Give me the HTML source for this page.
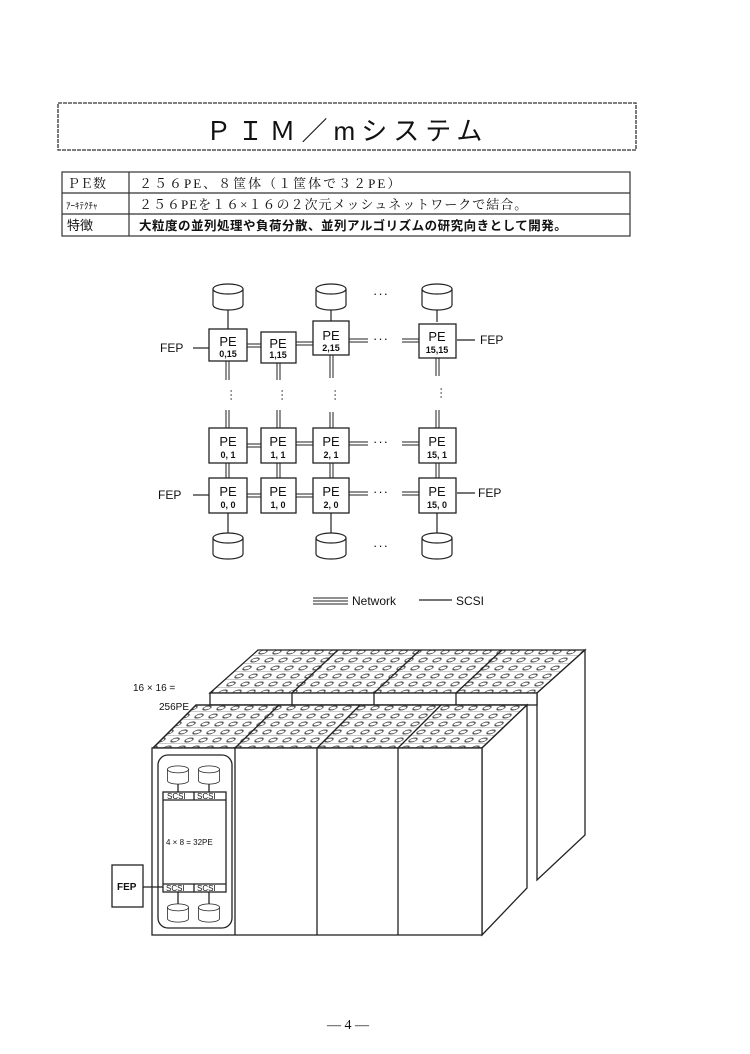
<!DOCTYPE html>
<html><head><meta charset="utf-8"><style>
body{margin:0;background:#fff}
svg{display:block}
text{font-family:"Liberation Sans","Noto Sans CJK JP",sans-serif;fill:#111}
.m{font-family:"Liberation Serif","Noto Serif CJK SC",serif}
</style></head><body>
<svg width="750" height="1054" viewBox="0 0 750 1054" xmlns="http://www.w3.org/2000/svg">
<defs>
<pattern id="dots" width="14" height="8" patternUnits="userSpaceOnUse" patternTransform="skewX(-45)">
<ellipse cx="5" cy="4" rx="3.5" ry="2" fill="none" stroke="#444" stroke-width="1"/>
<line x1="0" y1="7.5" x2="14" y2="7.5" stroke="#888" stroke-width="0.5"/>
</pattern>
<g id="dk"><path d="M-15 -8V8A15 5 0 0 0 15 8V-8"/><ellipse cx="0" cy="-8" rx="15" ry="5"/></g>
</defs>
<!-- title -->
<rect x="58" y="103" width="578" height="47" fill="none" stroke="#333" stroke-width="1.3" stroke-dasharray="4,1"/>
<text x="347" y="140" font-size="26" text-anchor="middle" letter-spacing="6">ＰＩＭ／mシステム</text>
<!-- table -->
<g stroke="#333" stroke-width="1.2" fill="none">
<rect x="62" y="172" width="568" height="64"/>
<line x1="62" y1="193" x2="630" y2="193"/>
<line x1="62" y1="214" x2="630" y2="214"/>
<line x1="129" y1="172" x2="129" y2="236"/>
</g>
<g font-size="13">
<text x="67" y="188" class="m">ＰＥ数</text>
<text x="139" y="188" class="m" letter-spacing="2">２５６PE、８筐体（１筐体で３２PE）</text>
<text x="66" y="209" font-size="9">ｱｰｷﾃｸﾁｬ</text>
<text x="139" y="209" class="m" letter-spacing="1">２５６PEを１６×１６の２次元メッシュネットワークで結合。</text>
<text x="67" y="230">特徴</text>
<text x="139" y="230" font-size="12.5" font-weight="bold" letter-spacing="0.5">大粒度の並列処理や負荷分散、並列アルゴリズムの研究向きとして開発。</text>
</g>
<!-- mesh diagram -->
<g stroke="#222" stroke-width="1.2" fill="#fff">
<line x1="228" y1="305" x2="228" y2="330"/><line x1="331" y1="305" x2="331" y2="322"/><line x1="437" y1="305" x2="437" y2="322"/>
<line x1="228" y1="513" x2="228" y2="535"/><line x1="331" y1="513" x2="331" y2="535"/><line x1="437" y1="513" x2="437" y2="535"/>
<line x1="193" y1="348" x2="209" y2="348"/><line x1="457" y1="340" x2="475" y2="340"/>
<line x1="193" y1="495" x2="209" y2="495"/><line x1="457" y1="493" x2="475" y2="493"/>
</g>
<g stroke="#222" stroke-width="1" fill="none">
<path d="M247 344H261M247 347H261M296 342H313M296 345H313M349 339H368M349 342H368M402 339H419M402 342H419"/>
<path d="M247 444H261M247 447H261M296 442H313M296 445H313M349 442H368M349 445H368M402 442H419M402 445H419"/>
<path d="M247 494H261M247 497H261M296 494H313M296 497H313M349 492H368M349 495H368M402 492H419M402 495H419"/>
<path d="M226 361V380M229 361V380M277 363V380M280 363V380M330 355V378M333 355V378M436 358V376M439 358V376"/>
<path d="M226 410V428M229 410V428M277 410V428M280 410V428M330 412V428M333 412V428M436 410V428M439 410V428"/>
<path d="M226 463V478M229 463V478M277 463V478M280 463V478M330 463V478M333 463V478M436 463V478M439 463V478"/>
</g>
<g font-size="12"><text x="160" y="352">FEP</text><text x="480" y="344">FEP</text><text x="158" y="499">FEP</text><text x="478" y="497">FEP</text></g>
<g font-size="13" letter-spacing="1">
<text x="373" y="343">···</text><text x="373" y="446">···</text><text x="373" y="496">···</text>
<text x="373" y="298">···</text><text x="373" y="550">···</text>
</g>
<g font-size="12"><text x="225" y="392" transform="rotate(90 228 392)">···</text><text x="276" y="392" transform="rotate(90 279 392)">···</text><text x="329" y="392" transform="rotate(90 332 392)">···</text><text x="435" y="390" transform="rotate(90 438 390)">···</text></g>
<g stroke="#222" stroke-width="1.3" fill="#fff">
<rect x="209" y="329" width="38" height="32"/><rect x="261" y="332" width="35" height="31"/><rect x="313" y="321" width="36" height="34"/><rect x="419" y="324" width="37" height="34"/>
<rect x="209" y="428" width="38" height="35"/><rect x="261" y="428" width="35" height="35"/><rect x="313" y="428" width="36" height="35"/><rect x="419" y="428" width="37" height="35"/>
<rect x="209" y="478" width="38" height="35"/><rect x="261" y="478" width="35" height="35"/><rect x="313" y="478" width="36" height="35"/><rect x="419" y="478" width="37" height="35"/>
</g>
<g font-size="13" text-anchor="middle">
<text x="228" y="346">PE</text><text x="278" y="348">PE</text><text x="331" y="340">PE</text><text x="437" y="341">PE</text>
<text x="228" y="446">PE</text><text x="278" y="446">PE</text><text x="331" y="446">PE</text><text x="437" y="446">PE</text>
<text x="228" y="496">PE</text><text x="278" y="496">PE</text><text x="331" y="496">PE</text><text x="437" y="496">PE</text>
</g>
<g font-size="9" font-weight="bold" text-anchor="middle">
<text x="228" y="357">0,15</text><text x="278" y="358">1,15</text><text x="331" y="351">2,15</text><text x="437" y="353">15,15</text>
<text x="228" y="458">0, 1</text><text x="278" y="458">1, 1</text><text x="331" y="458">2, 1</text><text x="437" y="458">15, 1</text>
<text x="228" y="508">0, 0</text><text x="278" y="508">1, 0</text><text x="331" y="508">2, 0</text><text x="437" y="508">15, 0</text>
</g>
<g stroke="#222" stroke-width="1.2" fill="#fff">
<use href="#dk" x="228" y="297"/><use href="#dk" x="331" y="297"/><use href="#dk" x="437" y="297"/>
<use href="#dk" x="228" y="546"/><use href="#dk" x="331" y="546"/><use href="#dk" x="437" y="546"/>
</g>
<!-- legend -->
<path d="M313 598H348M313 601H348M313 604H348" stroke="#222" stroke-width="0.9"/>
<text x="352" y="605" font-size="12">Network</text>
<line x1="419" y1="600" x2="452" y2="600" stroke="#222" stroke-width="1.2"/>
<text x="456" y="605" font-size="12">SCSI</text>
<!-- cabinet back -->
<g stroke="#222" stroke-width="1.3" fill="#fff">
<polygon points="210,693 537,693 585,650 258,650" fill="url(#dots)"/>
<polygon points="537,693 585,650 585,835 537,880"/>
<rect x="210" y="693" width="327" height="12"/>
<line x1="292" y1="693" x2="338" y2="650"/><line x1="374" y1="693" x2="420" y2="650"/><line x1="456" y1="693" x2="502" y2="650"/>
<line x1="292" y1="693" x2="292" y2="705"/><line x1="374" y1="693" x2="374" y2="705"/><line x1="456" y1="693" x2="456" y2="705"/>
</g>
<!-- cabinet front -->
<g stroke="#222" stroke-width="1.3" fill="#fff">
<polygon points="153,748 482,748 527,705 196,705"/>
<polygon points="153,748 482,748 527,705 196,705" fill="url(#dots)"/>
<polygon points="482,748 527,705 527,888 482,935"/>
<rect x="152" y="748" width="330" height="187"/>
<line x1="235" y1="748" x2="235" y2="935"/><line x1="317" y1="748" x2="317" y2="935"/><line x1="398" y1="748" x2="398" y2="935"/>
<line x1="235" y1="748" x2="279" y2="705"/><line x1="317" y1="748" x2="360" y2="705"/><line x1="398" y1="748" x2="441" y2="705"/>
<rect x="158" y="755" width="74" height="173" rx="10"/>
<rect x="163" y="792" width="63" height="100"/>
<line x1="163" y1="800" x2="226" y2="800"/><line x1="163" y1="884" x2="226" y2="884"/>
<line x1="194" y1="792" x2="194" y2="800"/><line x1="194" y1="884" x2="194" y2="892"/>
<rect x="112" y="865" width="31" height="42"/>
<line x1="143" y1="887" x2="163" y2="887"/>
<line x1="178" y1="780" x2="178" y2="792"/><line x1="209" y1="780" x2="209" y2="792"/>
<line x1="178" y1="892" x2="178" y2="906"/><line x1="209" y1="892" x2="209" y2="906"/>
</g>
<g stroke="#222" stroke-width="1.1" fill="#fff">
<use href="#dk" transform="translate(178 775) scale(0.7)"/>
<use href="#dk" transform="translate(209 775) scale(0.7)"/>
<use href="#dk" transform="translate(178 913) scale(0.7)"/>
<use href="#dk" transform="translate(209 913) scale(0.7)"/>
</g>
<g font-size="8"><text x="167" y="799">SCSI</text><text x="197" y="799">SCSI</text><text x="166" y="891">SCSI</text><text x="197" y="891">SCSI</text>
<text x="166" y="845" font-size="8">4 × 8 = 32PE</text></g>
<text x="117" y="890" font-size="10" font-weight="bold">FEP</text>
<text x="133" y="691" font-size="10">16 × 16 =</text>
<text x="159" y="710" font-size="10">256PE</text>
<text x="348" y="1029" font-size="14" class="m" text-anchor="middle">— 4 —</text>
</svg>
</body></html>
